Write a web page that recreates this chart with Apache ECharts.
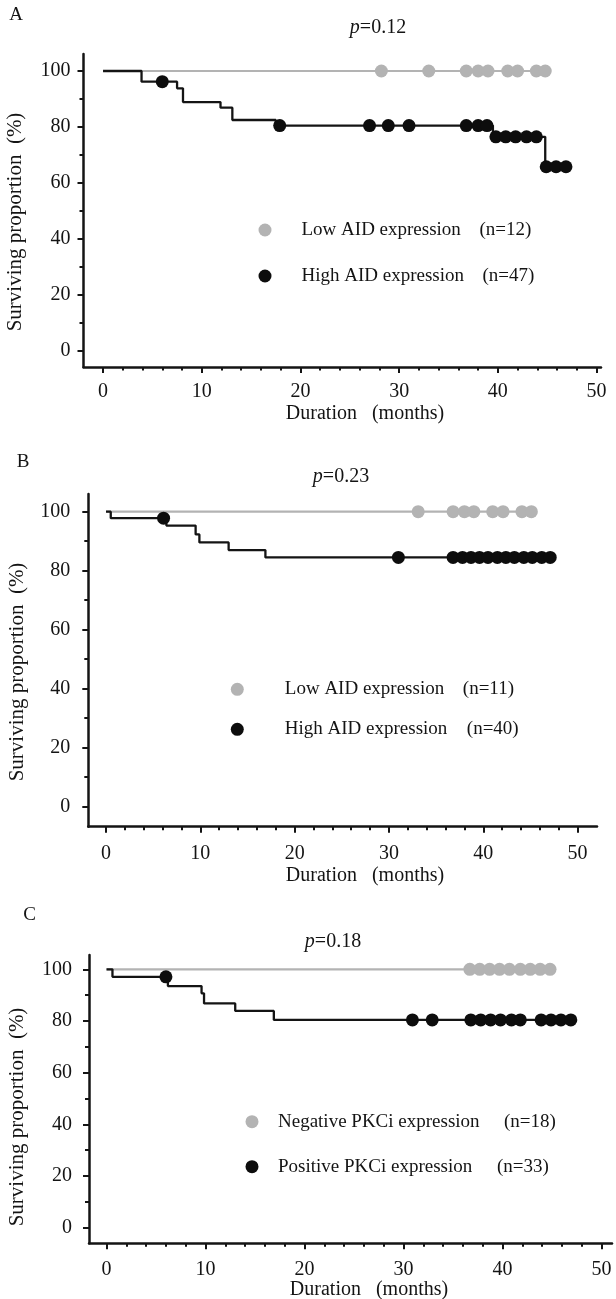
<!DOCTYPE html>
<html><head><meta charset="utf-8">
<script src="https://cdn.jsdelivr.net/npm/echarts@6/dist/echarts.min.js"></script>
<style>html,body{margin:0;padding:0;background:#fff}#c{width:616px;height:1299px}</style>
</head><body><div id="c"></div>
<script>
// ---------- DATA ----------
const xTickLabels = [0, 10, 20, 30, 40, 50];
const yTickLabels = [0, 20, 40, 60, 80, 100];
const xMinorTicks = [2,4,6,8,12,14,16,18,22,24,26,28,32,34,36,38,42,44,46,48];
const yMinorTicks = [10,30,50,70,90];

// Panel A
const pA = 'p=0.12';
const namesA = ['Low AID expression', 'High AID expression'];
const nA = ['(n=12)', '(n=47)'];
const stepTimesA = [0, 3.9, 7.5, 8.1, 11.9, 13.1, 17.5, 39.5, 44.8];
const stepSurvA  = [100, 96.2, 93.8, 88.9, 86.9, 82.5, 80.5, 76.5, 65.8];
const censorHighA = [6.0, 17.9, 27.0, 28.9, 31.0, 36.8, 38.0, 38.9, 39.8, 40.8, 41.8, 42.9, 43.9, 44.9, 45.9, 46.9];
const censorLowA  = [28.2, 33.0, 36.8, 38.0, 39.0, 41.0, 42.0, 43.9, 44.8];

// Panel B
const pB = 'p=0.23';
const namesB = ['Low AID expression', 'High AID expression'];
const nB = ['(n=11)', '(n=40)'];
const stepTimesB = [0, 0.5, 6.4, 9.5, 9.9, 13.0, 16.9];
const stepSurvB  = [100, 97.8, 95.3, 92.3, 89.6, 87.0, 84.5];
const censorHighB = [6.1, 31.0, 36.8, 37.8, 38.7, 39.6, 40.5, 41.5, 42.4, 43.3, 44.3, 45.2, 46.2, 47.1];
const censorLowB  = [33.1, 36.8, 38.0, 39.0, 41.0, 42.1, 44.1, 45.1];

// Panel C
const pC = 'p=0.18';
const namesC = ['Negative PKCi expression', 'Positive PKCi expression'];
const nC = ['(n=18)', '(n=33)'];
const stepTimesC = [0, 0.6, 6.2, 9.6, 9.85, 13.0, 16.9];
const stepSurvC  = [100, 97.1, 93.5, 90.7, 86.8, 83.9, 80.4];
const censorPosC = [6.0, 30.9, 32.9, 36.8, 37.8, 38.8, 39.8, 40.9, 41.8, 43.9, 44.9, 45.9, 46.9];
const censorNegC = [36.7, 37.7, 38.7, 39.7, 40.7, 41.8, 42.8, 43.8, 44.8];

// ---------- LAYOUT ----------
const FONT = '"Liberation Serif", "DejaVu Serif", serif';
const INK = '#141414';
const GRAY = '#b3b3b3';
const panels = [
  {letter:'A', letterPos:[16,15], p:pA, pPos:[378,28], names:namesA, ns:nA,
   times:stepTimesA, surv:stepSurvA, cHigh:censorHighA, cLow:censorLowA,
   grid:{left:83.5, top:54, width:517.5, height:313}, x:[-1.98,50.45], y:[-5.71,106.07],
   yMargin:13, xMargin:15,
   xTitle:[365,414], yTitle:[15,222],
   legend:{left:258.5, top:220, gap:26, pad:25, w:[178,181]}},
  {letter:'B', letterPos:[23,462], p:pB, pPos:[341,477], names:namesB, ns:nB,
   times:stepTimesB, surv:stepSurvB, cHigh:censorHighB, cLow:censorLowB,
   grid:{left:88.3, top:494, width:508.7, height:332.7}, x:[-1.88,52.06], y:[-6.78,106.0],
   yMargin:18, xMargin:17,
   xTitle:[365,876], yTitle:[17,672],
   legend:{left:230.8, top:679.3, gap:20, pad:36, w:[178,182]}},
  {letter:'C', letterPos:[29.5,915], p:pC, pPos:[333,942], names:namesC, ns:nC,
   times:stepTimesC, surv:stepSurvC, cHigh:censorPosC, cLow:censorNegC,
   grid:{left:89, top:955, width:523, height:288.3}, x:[-1.77,51.06], y:[-6.0,105.53],
   yMargin:17, xMargin:16,
   xTitle:[369,1290], yTitle:[17,1117],
   legend:{left:245.5, top:1111.7, gap:25, pad:14.5, w:[226,219]}}
];

function survAt(times, surv, t) {
  let v = surv[0];
  for (let i = 0; i < times.length; i++) if (times[i] <= t) v = surv[i];
  return v;
}

const grid = [], xAxis = [], yAxis = [], series = [], legend = [], graphic = [];
panels.forEach((P, k) => {
  grid.push(Object.assign({containLabel:false}, P.grid));
  const axLine = {show:true, onZero:false, lineStyle:{color:INK, width:2.5}};
  xAxis.push({type:'value', gridIndex:k, position:'bottom', min:P.x[0], max:P.x[1], splitLine:{show:false},
    axisLine:axLine,
    axisTick:{show:true, inside:false, length:6, customValues:xTickLabels, lineStyle:{color:INK, width:2}},
    axisLabel:{customValues:xTickLabels, margin:P.xMargin, color:INK, fontFamily:FONT, fontSize:20}});
  xAxis.push({type:'value', gridIndex:k, position:'bottom', min:P.x[0], max:P.x[1], splitLine:{show:false},
    axisLine:{show:false, onZero:false},
    axisTick:{show:true, inside:false, length:3.5, customValues:xMinorTicks, lineStyle:{color:INK, width:2}},
    axisLabel:{show:false}});
  yAxis.push({type:'value', gridIndex:k, position:'left', min:P.y[0], max:P.y[1], splitLine:{show:false},
    axisLine:axLine,
    axisTick:{show:true, inside:false, length:6, customValues:yTickLabels, lineStyle:{color:INK, width:2}},
    axisLabel:{customValues:yTickLabels, margin:P.yMargin, color:INK, fontFamily:FONT, fontSize:20}});
  yAxis.push({type:'value', gridIndex:k, position:'left', min:P.y[0], max:P.y[1], splitLine:{show:false},
    axisLine:{show:false, onZero:false},
    axisTick:{show:true, inside:false, length:4, customValues:yMinorTicks, lineStyle:{color:INK, width:2}},
    axisLabel:{show:false}});
  const xi = 2*k, yi = 2*k;
  const lowEnd = Math.max(...P.cLow);
  const highEnd = Math.max(...P.cHigh);
  series.push({type:'line', name:P.letter+'-low-curve', xAxisIndex:xi, yAxisIndex:yi, step:'end',
    showSymbol:false, silent:true, lineStyle:{color:GRAY, width:2.2}, z:2,
    data:[[0, 100], [lowEnd, 100]]});
  const hd = P.times.map((t,i)=>[t, P.surv[i]]);
  hd.push([highEnd, survAt(P.times, P.surv, highEnd)]);
  series.push({type:'line', name:P.letter+'-high-curve', xAxisIndex:xi, yAxisIndex:yi, step:'end',
    showSymbol:false, silent:true, lineStyle:{color:INK, width:2.3}, z:3, data:hd});
  series.push({type:'scatter', name:P.names[0], xAxisIndex:xi, yAxisIndex:yi, symbol:'circle', symbolSize:13,
    itemStyle:{color:GRAY, opacity:1}, z:4, data:P.cLow.map(t=>[t,100])});
  series.push({type:'scatter', name:P.names[1], xAxisIndex:xi, yAxisIndex:yi, symbol:'circle', symbolSize:13,
    itemStyle:{color:'#0d0d0d', opacity:1}, z:5, data:P.cHigh.map(t=>[t, survAt(P.times, P.surv, t)])});
  const L = P.legend;
  legend.push({orient:'vertical', left:L.left, top:L.top, itemGap:L.gap, itemWidth:13, itemHeight:13,
    padding:0, icon:'circle', selectedMode:false,
    data:P.names.map((n,i)=>({name:n, itemStyle:{color: i===0 ? GRAY : '#0d0d0d', opacity:1}})),
    formatter: name => {
      const i = P.names.indexOf(name);
      return '{a' + i + '|' + name + '}{b|' + P.ns[i] + '}';
    },
    textStyle:{color:INK, fontFamily:FONT, fontSize:19, lineHeight:20,
      rich:{
        a0:{fontFamily:FONT, fontSize:19, color:INK, width:L.w[0], padding:[0,0,0,L.pad]},
        a1:{fontFamily:FONT, fontSize:19, color:INK, width:L.w[1], padding:[0,0,0,L.pad]},
        b:{fontFamily:FONT, fontSize:19, color:INK}
      }}});
  graphic.push({type:'text', x:P.letterPos[0], y:P.letterPos[1],
    style:{text:P.letter, font:'19px '+FONT, fill:INK, align:'center', verticalAlign:'middle'}});
  graphic.push({type:'text', x:P.pPos[0], y:P.pPos[1],
    style:{text:'{i|p}' + P.p.slice(1), align:'center', verticalAlign:'middle', fill:INK,
      font:'20px '+FONT, rich:{i:{fontStyle:'italic', fontFamily:FONT, fontSize:20, fill:INK}}}});
  graphic.push({type:'text', x:P.xTitle[0], y:P.xTitle[1],
    style:{text:'Duration   (months)', font:'20px '+FONT, fill:INK, align:'center', verticalAlign:'middle'}});
  graphic.push({type:'text', x:P.yTitle[0], y:P.yTitle[1], rotation:Math.PI/2,
    style:{text:'Surviving proportion  (%)', font:'21px '+FONT, fill:INK, align:'center', verticalAlign:'middle'}});
});

const chart = echarts.init(document.getElementById('c'), null, {renderer:'canvas'});
chart.setOption({animation:false, backgroundColor:'#fff', grid, xAxis, yAxis, series, legend, graphic});
</script></body></html>
